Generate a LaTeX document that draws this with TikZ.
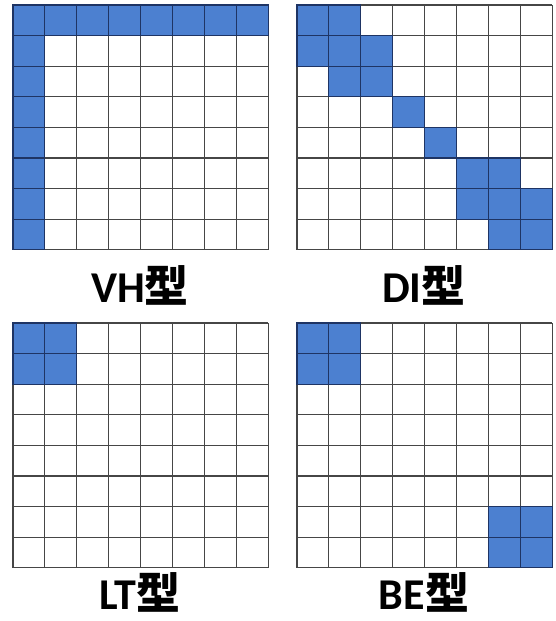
\documentclass[tikz,border=0pt]{standalone}
\usepackage{fontspec}
\setmainfont{Carlito}
\newfontfamily\cjk{Noto Sans CJK SC}
\usepackage{tikz}
\usetikzlibrary{calc}

\definecolor{cellblue}{RGB}{76,128,208}
\definecolor{cellline}{RGB}{30,52,100}
\definecolor{gridline}{RGB}{70,70,70}

\tikzset{
    bluecell/.style={draw=cellline, line width=1.1pt},
    gridlines/.style={draw=gridline, line width=1.1pt},
    typelabel/.style={font=\fontsize{44}{44}\selectfont\bfseries, inner sep=0pt, anchor=base},
}

% one 8x8 board: origin (top left, in px), then list of blue cells col/row
\newcommand{\board}[3]{%
    \begin{scope}[shift={#1}, x=31.9pt, y=-30.6pt]
        \foreach \c/\r in {#2} {
            \path[fill=cellblue] (\c-1, \r-1) rectangle ++(1,1);
        }
        \foreach \i in {0,...,8} {
            \draw[gridlines] (\i,0) -- (\i,8);
            \draw[gridlines] (0,\i) -- (8,\i);
        }
        \foreach \c/\r in {#2} {
            \path[bluecell] (\c-1, \r-1) rectangle ++(1,1);
        }
        \coordinate (#3) at (4,8);
    \end{scope}%
}

\begin{document}
\begin{tikzpicture}[x=1pt, y=-1pt]
    \useasboundingbox (0,0) rectangle (556,621);
    \fill[white] (0,0) rectangle (556,621);

    % VH: first row and first column
    \board{(13pt,-5pt)}{1/1,2/1,3/1,4/1,5/1,6/1,7/1,8/1,1/2,1/3,1/4,1/5,1/6,1/7,1/8}{vh}
    % DI: along the diagonal
    \board{(297pt,-5pt)}{1/1,2/1,1/2,2/2,3/2,2/3,3/3,4/4,5/5,6/6,7/6,6/7,7/7,8/7,7/8,8/8}{di}
    % LT: top left corner
    \board{(13pt,-323pt)}{1/1,2/1,1/2,2/2}{lt}
    % BE: both ends
    \board{(297pt,-323pt)}{1/1,2/1,1/2,2/2,7/7,8/7,7/8,8/8}{be}

    \node[typelabel] (vhlabel) at (140,302) {VH{\cjk 型}};
    \node[typelabel] (dilabel) at (424,302) {DI{\cjk 型}};
    \node[typelabel] (ltlabel) at (140,609) {LT{\cjk 型}};
    \node[typelabel] (belabel) at (424,609) {BE{\cjk 型}};
\end{tikzpicture}
\end{document}
